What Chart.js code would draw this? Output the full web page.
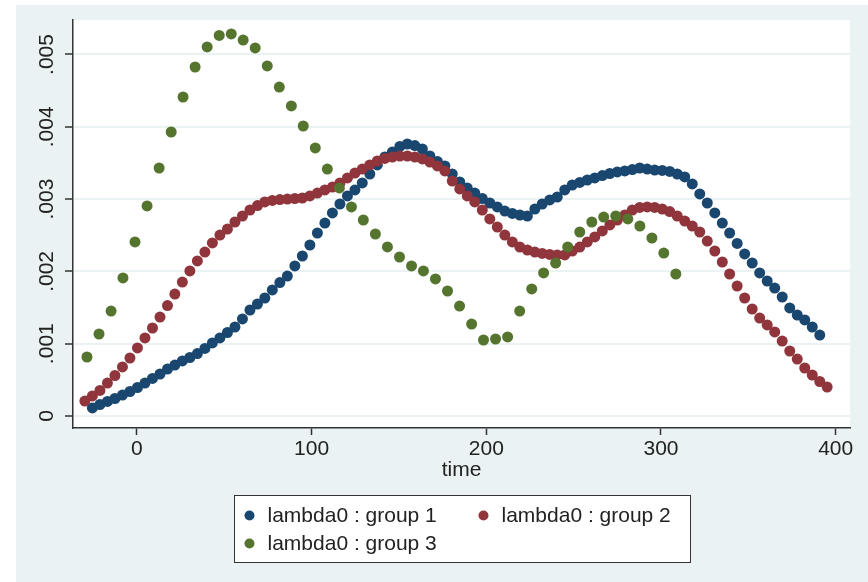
<!DOCTYPE html>
<html>
<head>
<meta charset="utf-8">
<script src="https://cdn.jsdelivr.net/npm/chart.js@4.4.1/dist/chart.umd.min.js"></script>
<style>
  html, body { margin: 0; padding: 0; background: #ffffff; }
</style>
</head>
<body>
<canvas id="graficaLambda" width="868" height="582"></canvas>
<script>
// common time grid for groups 1 and 2
const timeGrid = [
  -29.8, -25.5, -21.2, -16.9, -12.6, -8.3, -4.0, 0.3, 4.6, 8.9,
  13.2, 17.5, 21.7, 26.0, 30.3, 34.6, 38.9, 43.2, 47.5, 51.8,
  56.1, 60.4, 64.7, 69.0, 73.2, 77.5, 81.8, 86.1, 90.4, 94.7,
  99.0, 103.3, 107.6, 111.9, 116.2, 120.5, 124.8, 129.0, 133.3, 137.6,
  141.9, 146.2, 150.5, 154.8, 159.1, 163.4, 167.7, 172.0, 176.3, 180.5,
  184.8, 189.1, 193.4, 197.7, 202.0, 206.3, 210.6, 214.9, 219.2, 223.5,
  227.8, 232.0, 236.3, 240.6, 244.9, 249.2, 253.5, 257.8, 262.1, 266.4,
  270.7, 275.0, 279.3, 283.6, 287.8, 292.1, 296.4, 300.7, 305.0, 309.3,
  313.6, 317.9, 322.2, 326.5, 330.8, 335.1, 339.3, 343.6, 347.9, 352.2,
  356.5, 360.8, 365.1, 369.4, 373.7, 378.0, 382.3, 386.6, 390.9, 395.1
];

// group 1 starts one step later and ends one step earlier than group 2
const timeGroup1 = timeGrid.slice(1, 99);
const lambdaGroup1 = [
  0.000111, 0.000159, 0.000201, 0.000242, 0.000290, 0.000339, 0.000394, 0.000456, 0.000519,
  0.000581, 0.000650, 0.000705, 0.000761, 0.000809, 0.000864, 0.000934, 0.001010, 0.001079, 0.001155,
  0.001231, 0.001342, 0.001466, 0.001549, 0.001632, 0.001743, 0.001846, 0.001936, 0.002075, 0.002213,
  0.002365, 0.002531, 0.002669, 0.002808, 0.002932, 0.003043, 0.003126, 0.003223, 0.003347, 0.003472,
  0.003582, 0.003651, 0.003728, 0.003762, 0.003741, 0.003693, 0.003596, 0.003520, 0.003458, 0.003347,
  0.003237, 0.003154, 0.003084, 0.003008, 0.002946, 0.002891, 0.002835, 0.002801, 0.002780, 0.002766,
  0.002863, 0.002932, 0.002988, 0.003029, 0.003126, 0.003195, 0.003230, 0.003264, 0.003292, 0.003326,
  0.003354, 0.003375, 0.003389, 0.003409, 0.003430, 0.003416, 0.003402, 0.003396, 0.003382, 0.003347,
  0.003306, 0.003209, 0.003071, 0.002946, 0.002808, 0.002669, 0.002531, 0.002386, 0.002241, 0.002116,
  0.001978, 0.001867, 0.001770, 0.001646, 0.001494, 0.001397, 0.001328, 0.001231, 0.001120
];

const timeGroup2 = timeGrid;
const lambdaGroup2 = [
  0.000207, 0.000277, 0.000353, 0.000456, 0.000560, 0.000678, 0.000802, 0.000941, 0.001079, 0.001217,
  0.001369, 0.001528, 0.001687, 0.001853, 0.002006, 0.002144, 0.002268, 0.002393, 0.002503, 0.002586,
  0.002683, 0.002766, 0.002849, 0.002911, 0.002960, 0.002981, 0.002994, 0.003001, 0.003008, 0.003015,
  0.003043, 0.003084, 0.003126, 0.003167, 0.003223, 0.003292, 0.003361, 0.003416, 0.003472, 0.003527,
  0.003562, 0.003582, 0.003596, 0.003596, 0.003582, 0.003555, 0.003513, 0.003458, 0.003389, 0.003250,
  0.003140, 0.003043, 0.002960, 0.002849, 0.002725, 0.002614, 0.002503, 0.002407, 0.002337, 0.002296,
  0.002268, 0.002248, 0.002234, 0.002227, 0.002227, 0.002282, 0.002337, 0.002407, 0.002476, 0.002559,
  0.002642, 0.002711, 0.002780, 0.002849, 0.002884, 0.002891, 0.002884, 0.002863, 0.002828, 0.002766,
  0.002697, 0.002628, 0.002545, 0.002420, 0.002282, 0.002130, 0.001964, 0.001798, 0.001632, 0.001480,
  0.001355, 0.001259, 0.001162, 0.001037, 0.000899, 0.000788, 0.000664, 0.000567, 0.000477, 0.000401
];

// group 3 is on a coarser grid
const timeGroup3 = [
  -28.6, -21.7, -14.8, -8.0, -1.1, 5.8, 12.7, 19.6, 26.4, 33.3,
  40.2, 47.1, 54.0, 60.8, 67.7, 74.6, 81.5, 88.4, 95.2, 102.1,
  109.0, 115.9, 122.8, 129.6, 136.5, 143.4, 150.3, 157.2, 164.0, 170.9,
  177.8, 184.7, 191.6, 198.4, 205.3, 212.2, 219.1, 226.0, 232.8, 239.7,
  246.6, 253.5, 260.4, 267.2, 274.1, 281.0, 287.9, 294.8, 301.6, 308.5
];
const lambdaGroup3 = [
  0.000816, 0.001134, 0.001452, 0.001909, 0.002407, 0.002905, 0.003430, 0.003928, 0.004412, 0.004827,
  0.005104, 0.005263, 0.005284, 0.005200, 0.005090, 0.004841, 0.004550, 0.004288, 0.004011, 0.003707,
  0.003416, 0.003154, 0.002891, 0.002711, 0.002517, 0.002338, 0.002199, 0.002075, 0.002006, 0.001895,
  0.001729, 0.001521, 0.001272, 0.001051, 0.001065, 0.001093, 0.001452, 0.001757, 0.001978, 0.002116,
  0.002338, 0.002545, 0.002683, 0.002752, 0.002766, 0.002725, 0.002628, 0.002462, 0.002254, 0.001964
];

const seriesLabels = ['lambda0 : group 1', 'lambda0 : group 2', 'lambda0 : group 3'];
const seriesColors = ['#1A476F', '#90353B', '#55752F'];

const xTicks = [0, 100, 200, 300, 400];
const yTicks = [0, 0.001, 0.002, 0.003, 0.004, 0.005];
const yTickLabels = ['0', '.001', '.002', '.003', '.004', '.005'];
const xTitle = 'time';

const panelColor = '#EAF2F3';
const inkColor = '#222222';

function toPoints(xs, ys) {
  return ys.map((y, i) => ({ x: xs[i], y: y }));
}

// light panel behind everything, white plot region
const stataFondo = {
  id: 'stataFondo',
  beforeDraw(chart) {
    const c = chart.ctx;
    const a = chart.chartArea;
    c.save();
    c.fillStyle = '#ffffff';
    c.fillRect(0, 0, chart.width, chart.height);
    c.fillStyle = panelColor;
    c.fillRect(16, 5, chart.width - 16, chart.height - 5);
    c.fillStyle = '#ffffff';
    c.fillRect(a.left, a.top, a.right - a.left, a.bottom - a.top);
    c.restore();
  }
};

// boxed legend, two columns, like Stata
const stataLeyenda = {
  id: 'stataLeyenda',
  afterDraw(chart) {
    const c = chart.ctx;
    const a = chart.chartArea;
    const boxW = 456, boxH = 67;
    const left = Math.round((a.left + a.right) / 2 - boxW / 2) + 0.5;
    const top = 495.5;
    c.save();
    c.fillStyle = '#ffffff';
    c.fillRect(left, top, boxW, boxH);
    c.strokeStyle = '#333333';
    c.lineWidth = 1;
    c.strokeRect(left, top, boxW, boxH);
    c.font = '21px "Liberation Sans", Arial, sans-serif';
    c.textBaseline = 'middle';
    c.textAlign = 'left';
    chart.data.datasets.forEach((ds, i) => {
      const col = i % 2, row = Math.floor(i / 2);
      const mx = left + 15 + col * 234;
      const my = top + 20 + row * 28;
      c.fillStyle = ds.backgroundColor;
      c.beginPath();
      c.arc(mx, my, 5, 0, Math.PI * 2);
      c.fill();
      c.fillStyle = inkColor;
      c.fillText(ds.label, mx + 18, my + 1);
    });
    c.restore();
  }
};

Chart.defaults.font.family = '"Liberation Sans", Arial, sans-serif';
Chart.defaults.font.size = 21;
Chart.defaults.color = inkColor;

const ctx = document.getElementById('graficaLambda').getContext('2d');

const grafica = new Chart(ctx, {
  type: 'scatter',
  data: {
    datasets: [
      { label: seriesLabels[0], data: toPoints(timeGroup1, lambdaGroup1), backgroundColor: seriesColors[0], order: 3 },
      { label: seriesLabels[1], data: toPoints(timeGroup2, lambdaGroup2), backgroundColor: seriesColors[1], order: 2 },
      { label: seriesLabels[2], data: toPoints(timeGroup3, lambdaGroup3), backgroundColor: seriesColors[2], order: 1 }
    ]
  },
  options: {
    responsive: false,
    animation: false,
    devicePixelRatio: 1,
    events: [],
    elements: {
      point: { radius: 5.5, borderWidth: 0, hoverRadius: 5.5 }
    },
    layout: {
      padding: { left: 16, top: 20, right: 18, bottom: 99 }
    },
    plugins: {
      legend: { display: false },
      tooltip: { enabled: false }
    },
    scales: {
      x: {
        type: 'linear',
        min: -36.6,
        max: 408.2,
        afterBuildTicks: s => { s.ticks = xTicks.map(v => ({ value: v })); },
        afterFit: s => { s.height = 55; },
        ticks: { padding: 2, color: inkColor, callback: v => String(v) },
        grid: { drawOnChartArea: false, drawTicks: true, tickLength: 7, tickColor: '#333333', tickWidth: 1.5 },
        border: { display: true, color: '#333333', width: 1.5 },
        title: { display: true, text: xTitle, color: inkColor, padding: 0, font: { size: 21 } }
      },
      y: {
        type: 'linear',
        min: -0.000166,
        max: 0.005477,
        afterBuildTicks: s => { s.ticks = yTicks.map(v => ({ value: v })); },
        afterFit: s => { s.width = 57; },
        ticks: {
          minRotation: 90,
          maxRotation: 90,
          crossAlign: 'center',
          padding: -3,
          color: inkColor,
          callback: (v, i) => yTickLabels[i]
        },
        grid: { color: panelColor, lineWidth: 2, drawTicks: true, tickLength: 8, tickColor: '#333333', tickWidth: 1.5 },
        border: { display: true, color: '#333333', width: 1.5 }
      }
    }
  },
  plugins: [stataFondo, stataLeyenda]
});
</script>
</body>
</html>
